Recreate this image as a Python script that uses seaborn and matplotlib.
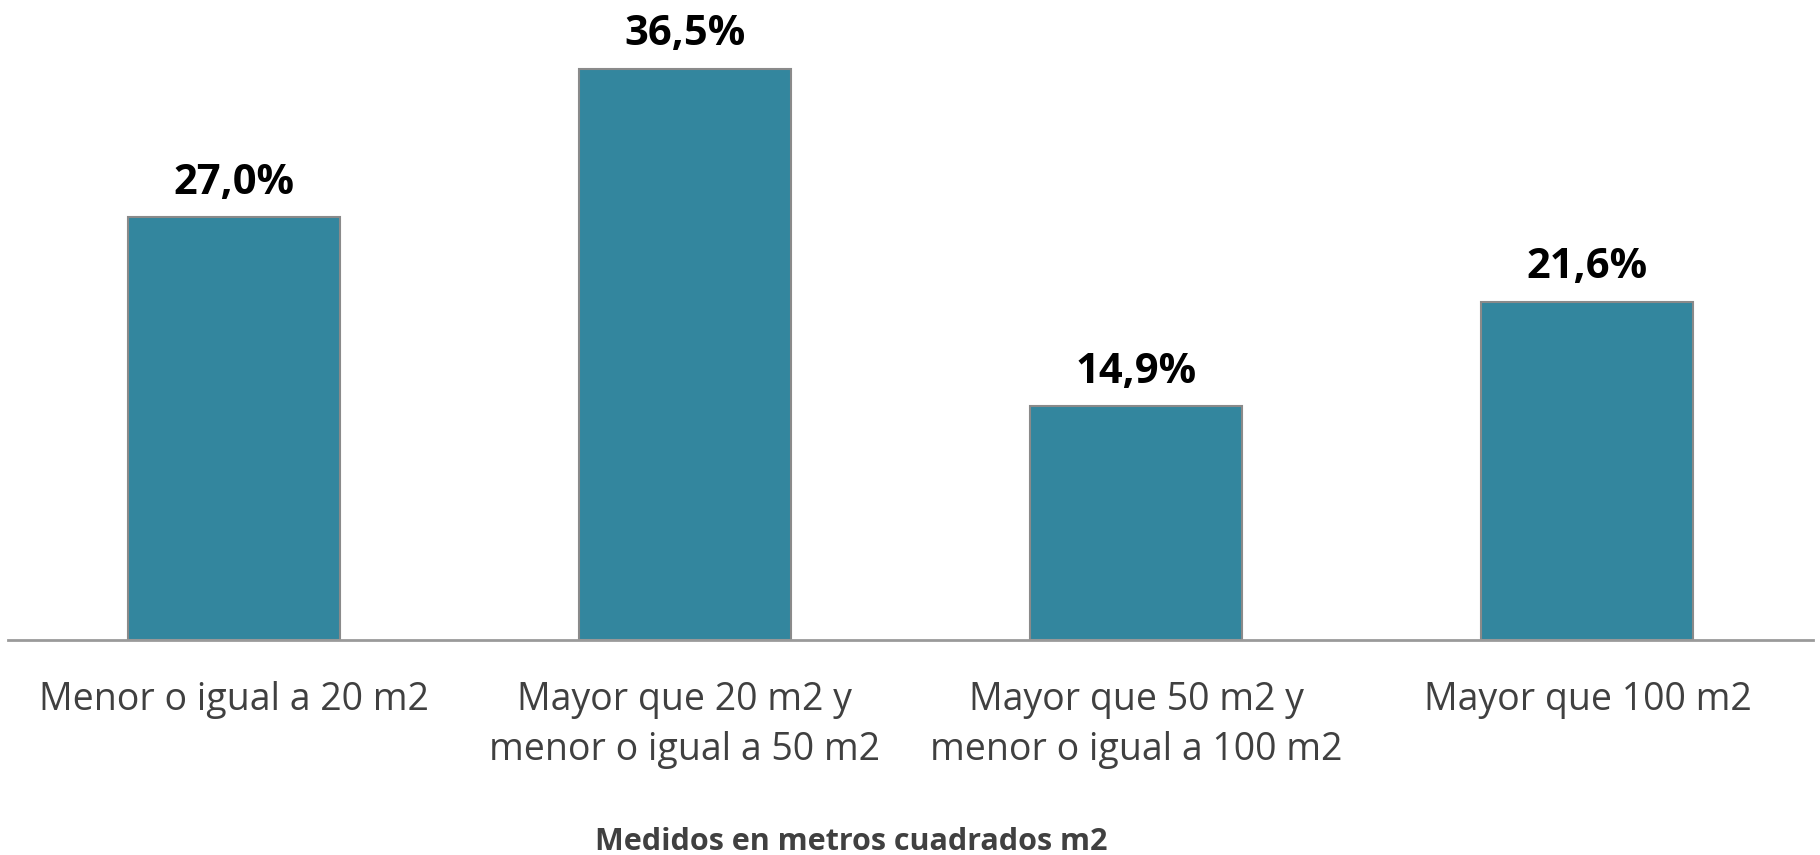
import numpy as np
import pandas as pd
import matplotlib.pyplot as plt
import seaborn as sns

categorias = ['Menor o igual a 20 m2',
              'Mayor que 20 m2 y\nmenor o igual a 50 m2',
              'Mayor que 50 m2 y\nmenor o igual a 100 m2',
              'Mayor que 100 m2']
porcentajes = [27.0, 36.5, 14.9, 21.6]
etiquetas = ['27,0%', '36,5%', '14,9%', '21,6%']

df = pd.DataFrame({'categoria': categorias, 'pct': porcentajes})

sns.set_style('white')
plt.rcParams['font.family'] = ['Open Sans', 'DejaVu Sans']

fig = plt.figure(figsize=(18.2, 8.55), dpi=100)
ax = fig.add_axes([8/1820, 1 - 639.5/855, 1805/1820, 629.5/855])

sns.barplot(x='categoria', y='pct', data=df, color='#33869e', saturation=1,
            width=0.47, edgecolor='#8a8a8a', linewidth=1.5, ax=ax)

for i, (v, t) in enumerate(zip(porcentajes, etiquetas)):
    ax.text(i, v + 1.5, t, ha='center', va='baseline', fontsize=30,
            fontweight='bold', color='black')

ax.set_ylim(0, 40.25)
ax.set_xlim(-0.5, 3.5)
ax.set_yticks([])
ax.set_ylabel('')
ax.set_xlabel('')
for s in ['top', 'right', 'left']:
    ax.spines[s].set_visible(False)
ax.spines['bottom'].set_color('#9a9a9a')
ax.spines['bottom'].set_linewidth(2)
ax.tick_params(axis='x', length=0, pad=30, labelsize=27, colors='#404040')
for lab in ax.get_xticklabels():
    lab.set_linespacing(1.4)

fig.text(851/1820, 1 - 842/855, 'Medidos en metros cuadrados m2', ha='center',
         va='center', fontsize=22, fontweight='bold', color='#404040')

plt.savefig('out.png')
